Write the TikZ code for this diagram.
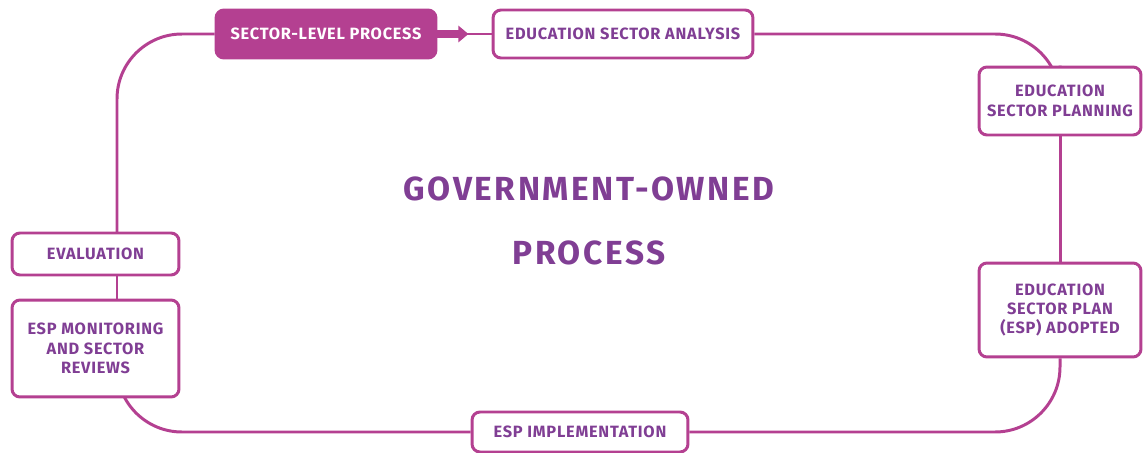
\documentclass[tikz,border=0pt]{standalone}
\usepackage{fontspec}
\setmainfont{Fira Sans}
\newfontfamily\boxfont[LetterSpace=4.6]{Fira Sans}
\newfontfamily\bigfont[LetterSpace=7.6]{Fira Sans}
\usetikzlibrary{arrows.meta,backgrounds}
\definecolor{mag}{RGB}{180,64,145}
\definecolor{purp}{RGB}{128,62,148}
\begin{document}
\begin{tikzpicture}[x=0.02cm,y=-0.02cm,
main/.style = {draw=mag, line width=1.7pt, rounded corners=0.16cm, fill=white, text=purp, font=\boxfont\bfseries\fontsize{9.3}{11}\selectfont, align=center, inner sep=0pt},
ring/.style = {draw=mag, line width=1.7pt, rounded corners=1.3cm}]
\useasboundingbox (0,0) rectangle (1144,453);
\node[main, fill=mag, text=white, minimum width=4.4cm, minimum height=0.96cm] (1) at (326,34) {SECTOR-LEVEL PROCESS};
\node[main, minimum width=5.2cm, minimum height=0.96cm] (2) at (623,34) {EDUCATION SECTOR ANALYSIS};
\node[main, minimum width=3.24cm, minimum height=1.36cm] (3) at (1060,101) {EDUCATION\\SECTOR PLANNING};
\node[main, minimum width=3.24cm, minimum height=1.88cm] (4) at (1060,310) {EDUCATION\\SECTOR PLAN\\(ESP) ADOPTED};
\node[main, minimum width=4.32cm, minimum height=0.8cm] (5) at (580,432) {ESP IMPLEMENTATION};
\node[main, minimum width=3.34cm, minimum height=1.94cm] (6) at (95.5,348.5) {ESP MONITORING\\AND SECTOR\\REVIEWS};
\node[main, minimum width=3.34cm, minimum height=0.84cm] (7) at (95.5,254) {EVALUATION};
\node[text=purp, font=\bigfont\bfseries\fontsize{19}{36}\selectfont, align=center] (8) at (589,221) {GOVERNMENT-OWNED\\PROCESS};
\coordinate (L) at (117,0);
\begin{scope}[on background layer]
\draw[ring] (1) -| (7 -| L);
\draw[ring] (7 -| L) -- (6 -| L);
\draw[ring] (6 -| L) |- (5);
\draw[ring] (5) -| (4);
\draw[ring] (4) -- (3);
\draw[ring] (3) |- (2);
\draw[ring] (1) -- (2);
\end{scope}
\draw[mag, line width=4pt, -{Triangle[length=0.2cm, width=0.32cm]}] (1.east) -- ++(31,0);
\end{tikzpicture}
\end{document}
